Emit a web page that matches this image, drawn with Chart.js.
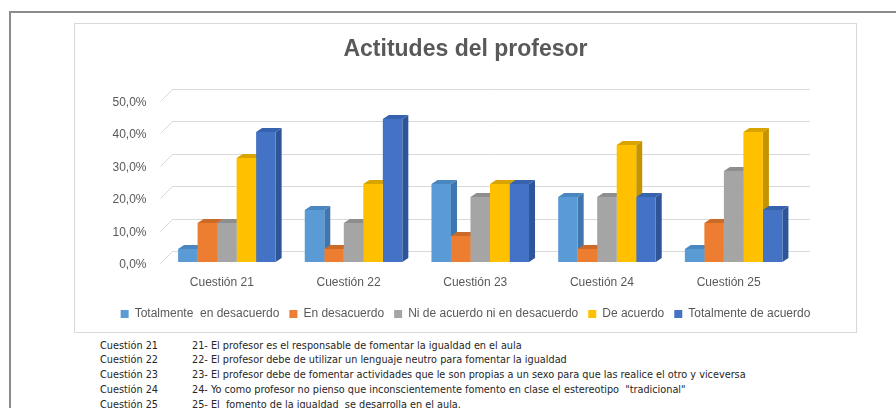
<!DOCTYPE html>
<html>
<head>
<meta charset="utf-8">
<script src="https://cdn.jsdelivr.net/npm/chart.js@4.4.1/dist/chart.umd.min.js"></script>
<style>
  html, body { margin: 0; padding: 0; background: #fff; }
  body { width: 896px; height: 408px; position: relative; overflow: hidden; }
  #frame { position: absolute; left: 9px; top: 11px; width: 900px; height: 420px;
           border-top: 2px solid #8c8c8c; border-left: 2px solid #8c8c8c; }
  #box { position: absolute; left: 74px; top: 23px; width: 781px; height: 308px;
         border: 1px solid #d9d9d9; background: #fff; }
  #box canvas { position: absolute; left: 0; top: 0; }
  .notes { position: absolute; left: 100px; top: 338.5px; font-family: "Liberation Sans Narrow", "DejaVu Sans Condensed", sans-serif;
           font-size: 10.8px; color: #262626; line-height: 14.9px; }
  .notes div { white-space: pre; }
  .notes span { display: inline-block; width: 92px; }
</style>
</head>
<body>
<div id="frame"></div>
<div id="box"><canvas id="chart" width="781" height="308"></canvas></div>
<div class="notes" id="notes"></div>
<script>
var categories = ['Cuestión 21', 'Cuestión 22', 'Cuestión 23', 'Cuestión 24', 'Cuestión 25'];
var seriesNames = ['Totalmente  en desacuerdo', 'En desacuerdo', 'Ni de acuerdo ni en desacuerdo', 'De acuerdo', 'Totalmente de acuerdo'];
var totalDesacuerdo = [4, 16, 24, 20, 4];
var enDesacuerdo = [12, 4, 8, 4, 12];
var niAcuerdo = [12, 12, 20, 20, 28];
var deAcuerdo = [32, 24, 24, 36, 40];
var totalAcuerdo = [40, 44, 24, 20, 16];
var frontColors = ['#5B9BD5', '#ED7D31', '#A5A5A5', '#FFC000', '#4472C4'];
var sideColors = ['#3F76AD', '#B85E22', '#7C7C7C', '#C49400', '#2E5597'];
var topColors = ['#4A86BF', '#CC6A27', '#8E8E8E', '#D9A400', '#3762AD'];
var questions = [
  '21- El profesor es el responsable de fomentar la igualdad en el aula',
  '22- El profesor debe de utilizar un lenguaje neutro para fomentar la igualdad',
  '23- El profesor debe de fomentar actividades que le son propias a un sexo para que las realice el otro y viceversa',
  '24- Yo como profesor no pienso que inconscientemente fomento en clase el estereotipo  "tradicional"',
  '25- El  fomento de la igualdad  se desarrolla en el aula.'
];

var notes = document.getElementById('notes');
categories.forEach(function (c, i) {
  var d = document.createElement('div');
  var s = document.createElement('span');
  s.textContent = c;
  d.appendChild(s);
  d.appendChild(document.createTextNode(questions[i]));
  notes.appendChild(d);
});

var values = [totalDesacuerdo, enDesacuerdo, niAcuerdo, deAcuerdo, totalAcuerdo];
var datasets = values.map(function (v, i) {
  return {
    label: seriesNames[i],
    data: v,
    backgroundColor: frontColors[i],
    borderWidth: 0
  };
});

// back wall grid + perspective slant on the left
var wallGrid = {
  id: 'wallGrid',
  beforeDatasetsDraw: function (chart) {
    var ctx = chart.ctx, y = chart.scales.y, a = chart.chartArea;
    ctx.save();
    ctx.strokeStyle = '#d9d9d9';
    ctx.lineWidth = 1;
    y.ticks.forEach(function (t) {
      var py = Math.round(y.getPixelForValue(t.value)) + 0.5;
      ctx.beginPath();
      ctx.moveTo(a.left - 3, py + 1);
      ctx.lineTo(a.left + 9, py - 11);
      ctx.lineTo(a.right + 13, py - 11);
      ctx.stroke();
    });
    // side and top faces, fronts are drawn by chart.js after this
    var dx = 6, dy = -4;
    chart.data.datasets.forEach(function (ds, i) {
      var meta = chart.getDatasetMeta(i);
      meta.data.forEach(function (bar) {
        var x0 = bar.x - bar.width / 2, x1 = bar.x + bar.width / 2;
        var top = bar.y, base = bar.base;
        ctx.fillStyle = sideColors[i];
        ctx.beginPath();
        ctx.moveTo(x1, top);
        ctx.lineTo(x1 + dx, top + dy);
        ctx.lineTo(x1 + dx, base + dy);
        ctx.lineTo(x1, base);
        ctx.closePath();
        ctx.fill();
        ctx.fillStyle = topColors[i];
        ctx.beginPath();
        ctx.moveTo(x0, top);
        ctx.lineTo(x0 + dx, top + dy);
        ctx.lineTo(x1 + dx, top + dy);
        ctx.lineTo(x1, top);
        ctx.closePath();
        ctx.fill();
      });
    });
    ctx.restore();
  }
};

new Chart(document.getElementById('chart'), {
  type: 'bar',
  data: { labels: categories, datasets: datasets },
  plugins: [wallGrid],
  options: {
    responsive: false,
    animation: false,
    events: [],
    categoryPercentage: 0.77,
    barPercentage: 1,
    layout: { padding: { left: 0, right: 0, top: 0, bottom: 2 } },
    plugins: {
      title: {
        display: true,
        text: 'Actitudes del profesor',
        color: '#595959',
        font: { family: 'Liberation Sans', size: 23, weight: 'bold' },
        padding: { top: 12, bottom: 36 }
      },
      legend: {
        position: 'bottom',
        labels: {
          color: '#595959',
          font: { family: 'Liberation Sans', size: 12 },
          boxWidth: 8,
          boxHeight: 8,
          padding: 10
        }
      },
      tooltip: { enabled: false }
    },
    scales: {
      x: {
        grid: { display: false, drawTicks: false },
        border: { display: false },
        ticks: { color: '#595959', font: { family: 'Liberation Sans', size: 12 }, padding: 13, labelOffset: -5 },
        afterFit: function (s) { s.height = 36; }
      },
      y: {
        min: 0,
        max: 50,
        grid: { display: false, drawTicks: false },
        border: { display: false },
        ticks: {
          stepSize: 10,
          padding: 17,
          labelOffset: 3,
          color: '#595959',
          font: { family: 'Liberation Sans', size: 12 },
          callback: function (v) { return v.toFixed(1).replace('.', ',') + '%'; }
        },
        afterFit: function (s) { s.width = 88.5; }
      },
      // empty right-hand space so the plot stops where the reference does
      pad: {
        position: 'right',
        display: true,
        grid: { display: false, drawTicks: false },
        border: { display: false },
        ticks: { display: false },
        afterFit: function (s) { s.width = 59; }
      }
    }
  }
});
</script>
</body>
</html>
